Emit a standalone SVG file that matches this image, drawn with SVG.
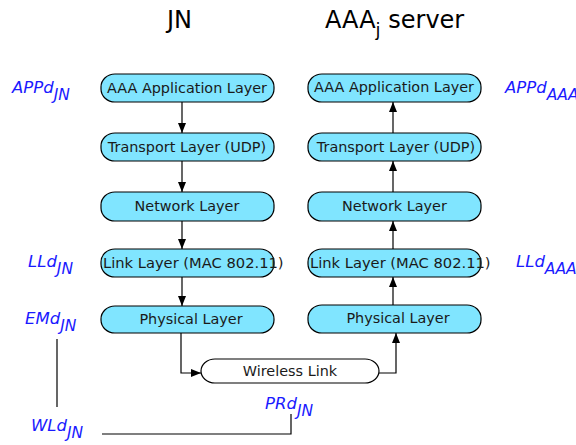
<svg xmlns="http://www.w3.org/2000/svg" width="576" height="445" viewBox="0 0 576 445">
<defs>
<marker id="ah" viewBox="0 0 10 10" refX="10" refY="5" markerWidth="10" markerHeight="10" markerUnits="userSpaceOnUse" orient="auto">
<path d="M0,1 L10,5 L0,9 Z" fill="#000"/>
</marker>
<style>
.box{fill:#80e5ff;stroke:#000;stroke-width:1.2}
.wbox{fill:#fff;stroke:#000;stroke-width:1.2}
.bt{font-family:"DejaVu Sans",sans-serif;font-size:14.4px;fill:#1a1a1a;text-anchor:middle}
.title{font-family:"DejaVu Sans",sans-serif;font-size:24px;fill:#000}
.lbl{font-family:"DejaVu Sans",sans-serif;font-size:16.5px;font-style:italic;fill:#1a1aff}
.sub{font-size:15.5px}
.c{fill:none;stroke:#000;stroke-width:1.2}
</style>
</defs>
<g id="titles">
<text class="title" x="167" y="28">JN</text>
<text class="title" x="325" y="28">AAA<tspan font-size="18" dy="8">j</tspan><tspan dy="-8"> server</tspan></text>
</g>
<g id="jn-app"><rect class="box" x="101" y="74" width="173" height="28" rx="14" ry="13"/><text class="bt" x="187" y="93">AAA Application Layer</text></g>
<g id="jn-transport"><rect class="box" x="101" y="133" width="173" height="28" rx="14" ry="13"/><text class="bt" x="187" y="152">Transport Layer (UDP)</text></g>
<g id="jn-network"><rect class="box" x="101" y="192" width="173" height="29" rx="14" ry="13"/><text class="bt" x="187" y="211">Network Layer</text></g>
<g id="jn-link"><rect class="box" x="101" y="249" width="173" height="28" rx="14" ry="13"/><text class="bt" x="103" y="268" style="text-anchor:start;font-size:14.7px">Link Layer (MAC 802.11)</text></g>
<g id="jn-phys"><rect class="box" x="101" y="306" width="173" height="27" rx="14" ry="13"/><text class="bt" x="191" y="324">Physical Layer</text></g>
<g id="aaa-app"><rect class="box" x="308" y="74" width="173" height="28" rx="14" ry="13"/><text class="bt" x="394" y="92">AAA Application Layer</text></g>
<g id="aaa-transport"><rect class="box" x="308" y="133" width="173" height="28" rx="14" ry="13"/><text class="bt" x="396" y="152">Transport Layer (UDP)</text></g>
<g id="aaa-network"><rect class="box" x="308" y="192" width="173" height="29" rx="14" ry="13"/><text class="bt" x="394.5" y="211">Network Layer</text></g>
<g id="aaa-link"><rect class="box" x="308" y="249" width="173" height="28" rx="14" ry="13"/><text class="bt" x="310" y="268" style="text-anchor:start;font-size:14.7px">Link Layer (MAC 802.11)</text></g>
<g id="aaa-phys"><rect class="box" x="308" y="305" width="173" height="28" rx="14" ry="13"/><text class="bt" x="398" y="323">Physical Layer</text></g>
<g id="wireless"><rect class="wbox" x="201" y="359" width="178" height="24" rx="14" ry="12"/><text class="bt" x="290" y="376">Wireless Link</text></g>
<g id="connectors">
<line class="c" x1="182" y1="102" x2="182" y2="133" marker-end="url(#ah)"/>
<line class="c" x1="182" y1="161" x2="182" y2="192" marker-end="url(#ah)"/>
<line class="c" x1="182" y1="221" x2="182" y2="249" marker-end="url(#ah)"/>
<line class="c" x1="182" y1="277" x2="182" y2="306" marker-end="url(#ah)"/>
<line class="c" x1="393" y1="133" x2="393" y2="102" marker-end="url(#ah)"/>
<line class="c" x1="393" y1="192" x2="393" y2="161" marker-end="url(#ah)"/>
<line class="c" x1="393" y1="249" x2="393" y2="221" marker-end="url(#ah)"/>
<line class="c" x1="393" y1="305" x2="393" y2="277" marker-end="url(#ah)"/>
<polyline class="c" points="181,333 181,373 201,373" marker-end="url(#ah)"/>
<polyline class="c" points="379,373 396,373 396,333" marker-end="url(#ah)"/>
<line class="c" x1="57" y1="339" x2="57" y2="407"/>
<polyline class="c" points="102,434 291,434 291,414"/>
</g>
<g id="labels">
<text class="lbl" x="12" y="93">APPd<tspan class="sub" dy="7">JN</tspan></text>
<text class="lbl" x="505" y="93">APPd<tspan class="sub" dy="7">AAA</tspan></text>
<text class="lbl" x="28" y="267">LLd<tspan class="sub" dy="7">JN</tspan></text>
<text class="lbl" x="516" y="267">LLd<tspan class="sub" dy="7">AAA</tspan></text>
<text class="lbl" x="25" y="324">EMd<tspan class="sub" dy="7">JN</tspan></text>
<text class="lbl" x="31" y="431">WLd<tspan class="sub" dy="7">JN</tspan></text>
<text class="lbl" x="265" y="409">PRd<tspan class="sub" dy="7">JN</tspan></text>
</g>
</svg>
